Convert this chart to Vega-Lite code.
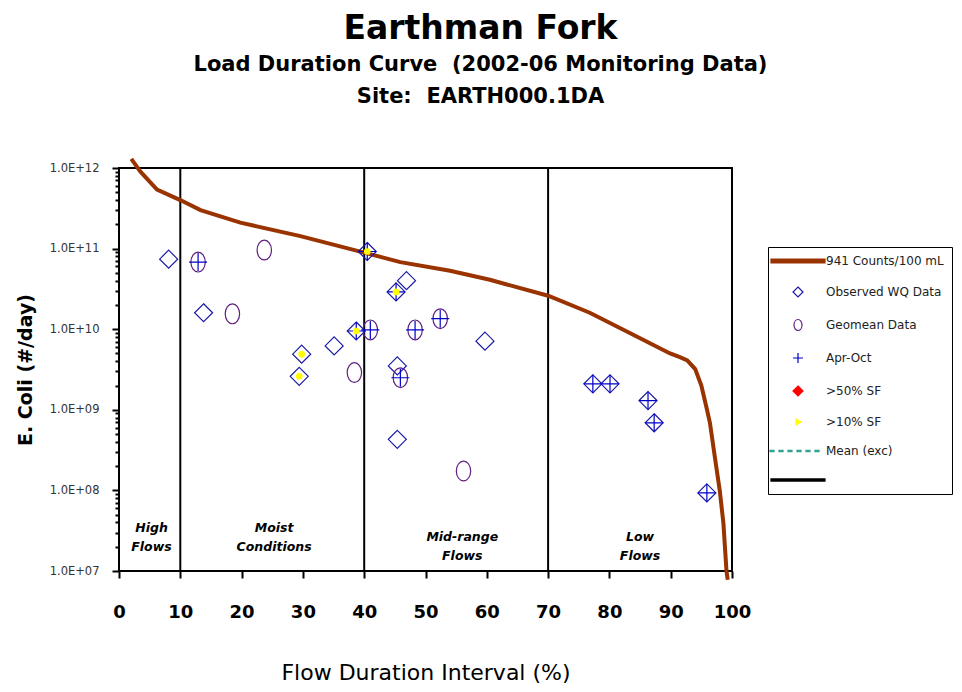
{
  "$schema": "https://vega.github.io/schema/vega-lite/v6.json",
  "width": 613,
  "height": 403,
  "autosize": "none",
  "padding": {"left": 119, "top": 168, "right": 230, "bottom": 121},
  "background": "white",
  "config": {"view": {"stroke": "black", "strokeWidth": 2}, "font": "DejaVu Sans"},
  "title": {
    "text": "Earthman Fork",
    "subtitle": ["Load Duration Curve\u00a0\u00a0(2002-06 Monitoring Data)", "Site:\u00a0\u00a0EARTH000.1DA"],
    "fontSize": 33, "fontWeight": "bold", "color": "black", "font": "DejaVu Sans",
    "subtitleFontSize": 21, "subtitleFontWeight": "bold", "subtitleColor": "black", "subtitleFont": "DejaVu Sans",
    "subtitleLineHeight": 32, "subtitlePadding": 8,
    "anchor": "middle", "dx": 55, "offset": 44
  },
  "datasets": {
    "dividers": [{"x": 10}, {"x": 40}, {"x": 70}],
    "curve": [
      {"x": 2.0, "y": 1.3e12}, {"x": 3.5, "y": 9.0e11}, {"x": 6.2, "y": 5.4e11}, {"x": 10, "y": 4.0e11},
      {"x": 13.3, "y": 3.0e11}, {"x": 19.8, "y": 2.1e11}, {"x": 29.6, "y": 1.43e11}, {"x": 40, "y": 8.9e10},
      {"x": 45.9, "y": 6.8e10}, {"x": 54, "y": 5.3e10}, {"x": 60.5, "y": 4.1e10}, {"x": 70, "y": 2.6e10},
      {"x": 76.8, "y": 1.6e10}, {"x": 83.4, "y": 8.9e9}, {"x": 89.9, "y": 5.0e9}, {"x": 91.5, "y": 4.5e9},
      {"x": 92.7, "y": 4.1e9}, {"x": 94.0, "y": 3.2e9}, {"x": 95.0, "y": 2.0e9}, {"x": 95.8, "y": 1.1e9},
      {"x": 96.4, "y": 6.9e8}, {"x": 97.2, "y": 2.6e8},
      {"x": 98.0, "y": 1.0e8}, {"x": 98.6, "y": 3.9e7}, {"x": 99.1, "y": 1.0e7}, {"x": 99.3, "y": 7.8e6}
    ],
    "obs": [
      {"x": 8.1, "y": 7.4e10, "type": "Observed WQ Data", "aprOct": false, "sf10": false},
      {"x": 12.9, "y": 6.8e10, "type": "Geomean Data", "aprOct": true, "sf10": false},
      {"x": 23.7, "y": 9.6e10, "type": "Geomean Data", "aprOct": false, "sf10": false},
      {"x": 13.8, "y": 1.6e10, "type": "Observed WQ Data", "aprOct": false, "sf10": false},
      {"x": 18.5, "y": 1.55e10, "type": "Geomean Data", "aprOct": false, "sf10": false},
      {"x": 29.8, "y": 4.9e9, "type": "Observed WQ Data", "aprOct": false, "sf10": true},
      {"x": 29.4, "y": 2.6e9, "type": "Observed WQ Data", "aprOct": false, "sf10": true},
      {"x": 35.1, "y": 6.2e9, "type": "Observed WQ Data", "aprOct": false, "sf10": false},
      {"x": 38.7, "y": 9.5e9, "type": "Observed WQ Data", "aprOct": true, "sf10": true},
      {"x": 41.0, "y": 9.8e9, "type": "Geomean Data", "aprOct": true, "sf10": false},
      {"x": 38.4, "y": 2.9e9, "type": "Geomean Data", "aprOct": false, "sf10": false},
      {"x": 40.5, "y": 9.2e10, "type": "Observed WQ Data", "aprOct": true, "sf10": true},
      {"x": 45.2, "y": 2.9e10, "type": "Observed WQ Data", "aprOct": true, "sf10": true},
      {"x": 46.9, "y": 4.0e10, "type": "Observed WQ Data", "aprOct": false, "sf10": false},
      {"x": 48.3, "y": 9.8e9, "type": "Geomean Data", "aprOct": true, "sf10": false},
      {"x": 52.4, "y": 1.35e10, "type": "Geomean Data", "aprOct": true, "sf10": false},
      {"x": 59.7, "y": 7.1e9, "type": "Observed WQ Data", "aprOct": false, "sf10": false},
      {"x": 45.4, "y": 3.5e9, "type": "Observed WQ Data", "aprOct": false, "sf10": false},
      {"x": 45.9, "y": 2.5e9, "type": "Geomean Data", "aprOct": true, "sf10": false},
      {"x": 45.4, "y": 4.3e8, "type": "Observed WQ Data", "aprOct": false, "sf10": false},
      {"x": 56.2, "y": 1.74e8, "type": "Geomean Data", "aprOct": false, "sf10": false},
      {"x": 77.3, "y": 2.1e9, "type": "Observed WQ Data", "aprOct": true, "sf10": false},
      {"x": 80.1, "y": 2.1e9, "type": "Observed WQ Data", "aprOct": true, "sf10": false},
      {"x": 86.3, "y": 1.3e9, "type": "Observed WQ Data", "aprOct": true, "sf10": false},
      {"x": 87.3, "y": 6.9e8, "type": "Observed WQ Data", "aprOct": true, "sf10": false},
      {"x": 95.9, "y": 9.3e7, "type": "Observed WQ Data", "aprOct": true, "sf10": false}
    ],
    "regions": [
      {"x": 5.3, "y": 3.4e7, "label": "High\nFlows"},
      {"x": 25.3, "y": 3.4e7, "label": "Moist\nConditions"},
      {"x": 56.0, "y": 2.65e7, "label": "Mid-range\nFlows"},
      {"x": 85.0, "y": 2.65e7, "label": "Low\nFlows"}
    ]
  },
  "layer": [
    {
      "data": {"name": "dividers"},
      "mark": {"type": "rule", "color": "black", "strokeWidth": 2},
      "encoding": {
        "x": {"field": "x", "type": "quantitative", "title": "Flow Duration Interval (%)", "scale": {"domain": [0, 100], "nice": false}}
      }
    },
    {
      "data": {"name": "curve"},
      "mark": {"type": "line", "color": "#993300", "strokeWidth": 4, "clip": false},
      "encoding": {
        "x": {"field": "x", "type": "quantitative", "title": "Flow Duration Interval (%)",
          "scale": {"domain": [0, 100], "nice": false},
          "axis": {
            "values": [0, 10, 20, 30, 40, 50, 60, 70, 80, 90, 100],
            "grid": false, "domain": false, "tickColor": "black", "tickSize": 7, "tickWidth": 2,
            "labelFontSize": 18, "labelFontWeight": "bold", "labelColor": "black", "labelPadding": 25, "labelFlush": false,
            "titleFontSize": 22, "titleFontWeight": "normal", "titleColor": "black", "titlePadding": 41
          }
        },
        "y": {"field": "y", "type": "quantitative", "title": "E. Coli (#/day)",
          "scale": {"type": "log", "domain": [1e7, 1e12], "nice": false},
          "axis": {
            "values": [1e7, 2e7, 3e7, 4e7, 5e7, 6e7, 7e7, 8e7, 9e7, 1e8, 2e8, 3e8, 4e8, 5e8, 6e8, 7e8, 8e8, 9e8, 1e9, 2e9, 3e9, 4e9, 5e9, 6e9, 7e9, 8e9, 9e9, 1e10, 2e10, 3e10, 4e10, 5e10, 6e10, 7e10, 8e10, 9e10, 1e11, 2e11, 3e11, 4e11, 5e11, 6e11, 7e11, 8e11, 9e11, 1e12],
            "labelExpr": "abs(log(datum.value)/LN10 - round(log(datum.value)/LN10)) < 0.01 ? '1.0E+' + (round(log(datum.value)/LN10) < 10 ? '0' : '') + round(log(datum.value)/LN10) : ''",
            "labelOverlap": false, "labelFontSize": 11.5, "labelColor": "#333333", "labelPadding": 13,
            "grid": false, "domain": false, "tickColor": "black", "tickWidth": 2,
            "tickSize": {"condition": {"test": "abs(log(datum.value)/LN10 - round(log(datum.value)/LN10)) < 0.01", "value": 7}, "value": 4},
            "titleFontSize": 19, "titleFontWeight": "bold", "titleColor": "black", "titlePadding": 14
          }
        }
      }
    },
    {
      "data": {"name": "obs"},
      "mark": {"type": "point", "size": 324, "strokeWidth": 1.2, "opacity": 1, "filled": false},
      "encoding": {
        "x": {"field": "x", "type": "quantitative", "title": "Flow Duration Interval (%)", "scale": {"domain": [0, 100], "nice": false}},
        "y": {"field": "y", "type": "quantitative", "title": "E. Coli (#/day)", "scale": {"type": "log", "domain": [1e7, 1e12], "nice": false}},
        "shape": {"field": "type", "type": "nominal",
          "scale": {
            "domain": ["941 Counts/100 mL", "Observed WQ Data", "Geomean Data", "Apr-Oct", ">50% SF", ">10% SF", "Mean (exc)", " "],
            "range": [
              "M-5.4,-0.4H5.4V0.4H-5.4Z",
              "M0,-1L1,0L0,1L-1,0Z",
              "M0,-1.1A0.8,1.1 0 1,1 0,1.1A0.8,1.1 0 1,1 0,-1.1Z",
              "M-1,0H1M0,-1V1",
              "M0,-1L1,0L0,1L-1,0Z",
              "M-0.4,-0.6L0.6,0L-0.4,0.6Z",
              "M-5.6,-0.15h0.8v0.3h-0.8Z M-3.8,-0.15h0.8v0.3h-0.8Z M-2,-0.15h0.8v0.3h-0.8Z M-0.2,-0.15h0.8v0.3h-0.8Z M1.6,-0.15h0.8v0.3h-0.8Z M3.4,-0.15h0.8v0.3h-0.8Z",
              "M-5.4,-0.22H5.4V0.22H-5.4Z"
            ]
          },
          "legend": {
            "title": null, "orient": "none", "legendX": 649, "legendY": 79, "direction": "vertical",
            "padding": 8, "strokeColor": "black", "fillColor": "white",
            "symbolSize": 100, "symbolStrokeWidth": 1.2, "symbolOffset": 16, "labelOffset": 22,
            "labelFontSize": 12, "labelColor": "#222222", "labelLimit": 200, "rowPadding": 17
          }
        },
        "stroke": {"field": "type", "type": "nominal",
          "scale": {
            "domain": ["941 Counts/100 mL", "Observed WQ Data", "Geomean Data", "Apr-Oct", ">50% SF", ">10% SF", "Mean (exc)", " "],
            "range": ["#993300", "#1a1aa6", "#602080", "#0000cc", "red", "yellow", "#2a9d8f", "black"]
          }
        },
        "fill": {"field": "type", "type": "nominal",
          "scale": {
            "domain": ["941 Counts/100 mL", "Observed WQ Data", "Geomean Data", "Apr-Oct", ">50% SF", ">10% SF", "Mean (exc)", " "],
            "range": ["#993300", "transparent", "transparent", "transparent", "red", "yellow", "#2a9d8f", "black"]
          }
        }
      }
    },
    {
      "data": {"name": "obs"},
      "transform": [{"filter": "datum.aprOct"}],
      "mark": {"type": "point", "shape": "M-1,0H1M0,-1V1", "size": 324, "stroke": "#0000cc", "strokeWidth": 1.2, "filled": false, "opacity": 1},
      "encoding": {
        "x": {"field": "x", "type": "quantitative", "title": "Flow Duration Interval (%)", "scale": {"domain": [0, 100], "nice": false}},
        "y": {"field": "y", "type": "quantitative", "title": "E. Coli (#/day)", "scale": {"type": "log", "domain": [1e7, 1e12], "nice": false}}
      }
    },
    {
      "data": {"name": "obs"},
      "transform": [{"filter": "datum.sf10"}],
      "mark": {"type": "point", "shape": "circle", "size": 45, "fill": "#ffff00", "filled": true, "opacity": 1, "strokeWidth": 0},
      "encoding": {
        "x": {"field": "x", "type": "quantitative", "title": "Flow Duration Interval (%)", "scale": {"domain": [0, 100], "nice": false}},
        "y": {"field": "y", "type": "quantitative", "title": "E. Coli (#/day)", "scale": {"type": "log", "domain": [1e7, 1e12], "nice": false}}
      }
    },
    {
      "data": {"name": "regions"},
      "mark": {"type": "text", "fontSize": 12.5, "fontStyle": "italic", "fontWeight": "bold", "lineBreak": "\n", "lineHeight": 19, "color": "black", "baseline": "middle", "align": "center"},
      "encoding": {
        "x": {"field": "x", "type": "quantitative", "title": "Flow Duration Interval (%)", "scale": {"domain": [0, 100], "nice": false}},
        "y": {"field": "y", "type": "quantitative", "title": "E. Coli (#/day)", "scale": {"type": "log", "domain": [1e7, 1e12], "nice": false}},
        "text": {"field": "label"}
      }
    }
  ]
}
